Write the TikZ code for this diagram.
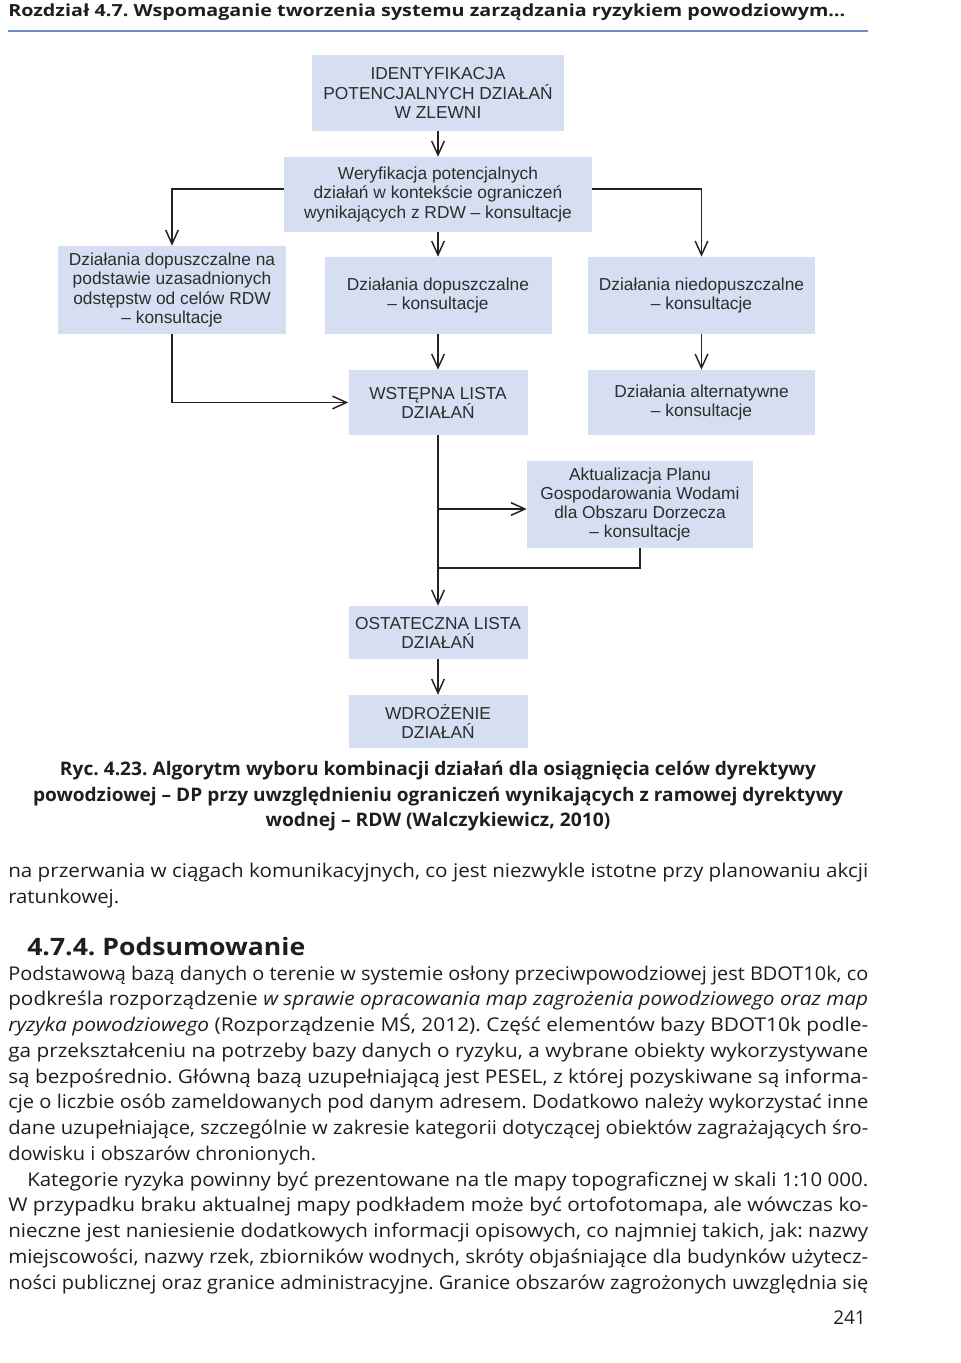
\documentclass[tikz,border=0pt]{standalone}
\usepackage{fontspec}
\usepackage{graphicx}
\setmainfont{Open Sans}
\newfontfamily\arialf{Liberation Sans}
\usetikzlibrary{arrows.meta}
\definecolor{boxc}{RGB}{214,222,241}
\definecolor{linec}{RGB}{35,35,35}
\definecolor{txt}{RGB}{30,30,30}
\definecolor{boxtxt}{RGB}{45,45,45}
\definecolor{rulec}{RGB}{108,142,196}
\newdimen\pxu \pxu=0.75pt
\newsavebox\fitbox
\newcommand\fitw[2]{\sbox\fitbox{\frenchspacing #2}\edef\fitwd{\the\wd\fitbox}\pgfmathsetmacro\fitsx{#1*0.75/\fitwd}\scalebox{\fitsx}[1]{\usebox\fitbox}}
\newcommand\jline[2]{\fitw{#1}{#2}}
\newcommand\bodyf{\fontsize{14.2}{18}\selectfont}
\tikzset{
  box/.style={fill=boxc, inner sep=0pt, align=center, text=boxtxt,
    font=\arialf\fontsize{13}{14.3}\selectfont},
  bx/.style 2 args={minimum width=#1*0.75pt, minimum height=#2*0.75pt},
  conn/.style={line width=1.1pt, draw=linec},
  arr/.style={conn, -{Straight Barb[length=10.5pt,width=9.5pt,line width=1.1pt]}},
  txtl/.style={anchor=base west, inner sep=0pt, text=txt},
  txtc/.style={anchor=base, inner sep=0pt, text=txt},
  txtr/.style={anchor=base east, inner sep=0pt, text=txt}
}
\begin{document}
\begin{tikzpicture}[x=0.75pt,y=-0.75pt]
\useasboundingbox (0,0) rectangle (960,1363);
\fill[white] (0,0) rectangle (960,1363);
% header
\node[txtl] (hdr) at (8,17) {\bfseries\fontsize{12.5}{14}\selectfont\fitw{837}{Rozdział 4.7. Wspomaganie tworzenia systemu zarządzania ryzykiem powodziowym…}};
\coordinate (rl) at (8,31);
\coordinate (rr) at (868,31);
\draw[rulec, line width=1.9pt] (rl) -- (rr);
% boxes
\node[box, bx={252}{76}] (id) at (438,93) {IDENTYFIKACJA\\POTENCJALNYCH DZIAŁAŃ\\W ZLEWNI};
\node[box, bx={308}{75}] (wer) at (438,194.5) {Weryfikacja potencjalnych\\działań w kontekście ograniczeń\\wynikających z RDW – konsultacje};
\node[box, bx={228}{88}] (ldop) at (172,290) {Działania dopuszczalne na\\podstawie uzasadnionych\\odstępstw od celów RDW\\– konsultacje};
\node[box, bx={227}{77}] (mdop) at (438,295.5) {Działania dopuszczalne\\– konsultacje};
\node[box, bx={227}{77}] (rnie) at (701.5,295.5) {Działania niedopuszczalne\\– konsultacje};
\node[box, bx={179}{65}] (wst) at (438,402.5) {WSTĘPNA LISTA\\DZIAŁAŃ};
\node[box, bx={227}{65}] (alt) at (701.5,402.5) {Działania alternatywne\\– konsultacje};
\node[box, bx={226}{87}] (akt) at (640,504.5) {Aktualizacja Planu\\Gospodarowania Wodami\\dla Obszaru Dorzecza\\– konsultacje};
\node[box, bx={179}{53}] (ost) at (438,632.5) {OSTATECZNA LISTA\\DZIAŁAŃ};
\node[box, bx={179}{53}] (wdr) at (438,721.5) {WDROŻENIE\\DZIAŁAŃ};
% connectors
\draw[arr] (id) -- (wer);
\draw[arr] ([yshift=4pt]wer.west) -| (ldop.north);
\draw[arr] ([yshift=4pt]wer.east) -| (rnie.north);
\draw[arr] (wer) -- (mdop);
\draw[arr] (mdop) -- (wst);
\draw[arr] (ldop.south) |- (wst.west);
\draw[arr] (rnie) -- (alt);
\draw[arr] (wst) -- (ost);
\coordinate (br) at (438,509);
\draw[arr] (br) -- (br -| akt.west);
\coordinate (jn) at (438,568);
\draw[conn] (akt.south) |- (jn);
\draw[arr] (ost) -- (wdr);
% caption
\node[txtc] (c1) at (438,775) {\bfseries\fontsize{14}{16}\selectfont\fitw{756}{Ryc. 4.23. Algorytm wyboru kombinacji działań dla osiągnięcia celów dyrektywy}};
\node[txtc] (c2) at (438,801) {\bfseries\fontsize{14}{16}\selectfont\fitw{810}{powodziowej – DP przy uwzględnieniu ograniczeń wynikających z ramowej dyrektywy}};
\node[txtc] (c3) at (438,826) {\bfseries\fontsize{14}{16}\selectfont\fitw{345}{wodnej – RDW (Walczykiewicz, 2010)}};
% body text
\node[txtl] (b1) at (8,877) {\bodyf\jline{860}{na przerwania w ciągach komunikacyjnych, co jest niezwykle istotne przy planowaniu akcji}};
\node[txtl] (b2) at (8,903) {\bodyf\fitw{111}{ratunkowej.}};
\node[txtl] (hd) at (27,955) {\bfseries\fontsize{18}{20}\selectfont\fitw{278}{4.7.4. Podsumowanie}};
\node[txtl] (p1) at (8,980) {\bodyf\jline{860}{Podstawową bazą danych o terenie w systemie osłony przeciwpowodziowej jest BDOT10k, co}};
\node[txtl] (p2) at (8,1005.75) {\bodyf\jline{860}{podkreśla rozporządzenie \textit{w sprawie opracowania map zagrożenia powodziowego oraz map}}};
\node[txtl] (p3) at (8,1031.5) {\bodyf\jline{860}{\textit{ryzyka powodziowego} (Rozporządzenie MŚ, 2012). Część elementów bazy BDOT10k podle-}};
\node[txtl] (p4) at (8,1057.25) {\bodyf\jline{860}{ga przekształceniu na potrzeby bazy danych o ryzyku, a wybrane obiekty wykorzystywane}};
\node[txtl] (p5) at (8,1083) {\bodyf\jline{860}{są bezpośrednio. Główną bazą uzupełniającą jest PESEL, z której pozyskiwane są informa-}};
\node[txtl] (p6) at (8,1108.75) {\bodyf\jline{860}{cje o liczbie osób zameldowanych pod danym adresem. Dodatkowo należy wykorzystać inne}};
\node[txtl] (p7) at (8,1134.5) {\bodyf\jline{860}{dane uzupełniające, szczególnie w zakresie kategorii dotyczącej obiektów zagrażających śro-}};
\node[txtl] (p8) at (8,1160.25) {\bodyf\fitw{308}{dowisku i obszarów chronionych.}};
\node[txtl] (q1) at (27,1186) {\bodyf\jline{841}{Kategorie ryzyka powinny być prezentowane na tle mapy topograficznej w skali 1:10 000.}};
\node[txtl] (q2) at (8,1211.75) {\bodyf\jline{860}{W przypadku braku aktualnej mapy podkładem może być ortofotomapa, ale wówczas ko-}};
\node[txtl] (q3) at (8,1237.5) {\bodyf\jline{860}{nieczne jest naniesienie dodatkowych informacji opisowych, co najmniej takich, jak: nazwy}};
\node[txtl] (q4) at (8,1263.25) {\bodyf\jline{860}{miejscowości, nazwy rzek, zbiorników wodnych, skróty objaśniające dla budynków użytecz-}};
\node[txtl] (q5) at (8,1289) {\bodyf\jline{860}{ności publicznej oraz granice administracyjne. Granice obszarów zagrożonych uwzględnia się}};
% page number
\node[txtr] (pg) at (866,1324) {\bodyf 241};
\end{tikzpicture}
\end{document}
